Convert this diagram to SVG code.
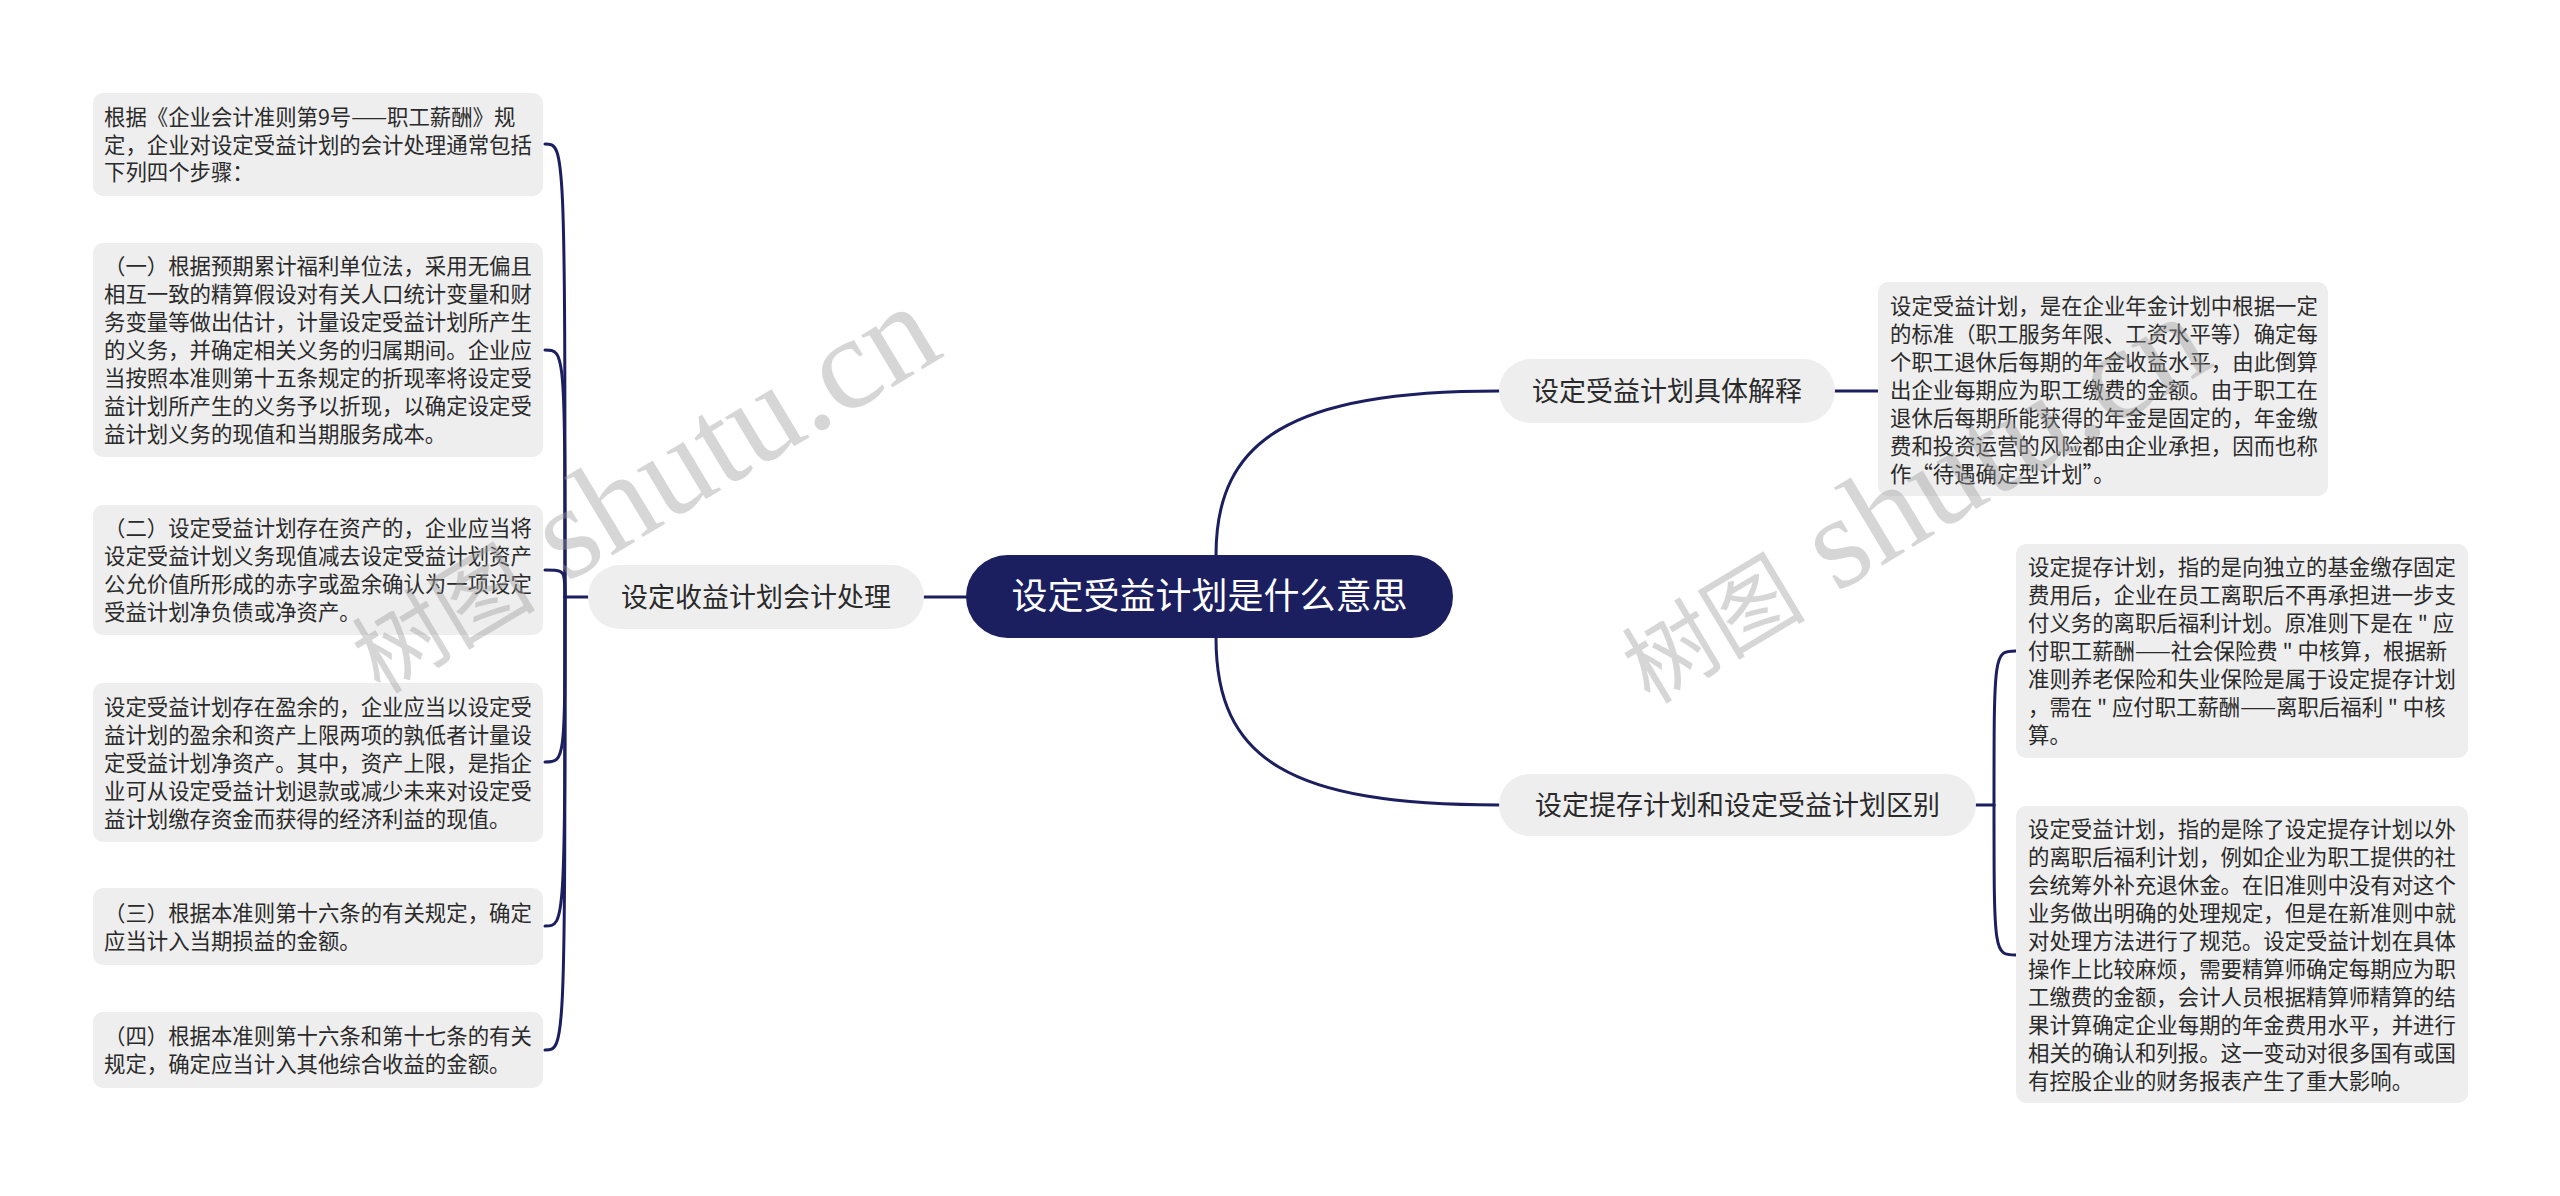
<svg xmlns="http://www.w3.org/2000/svg" width="2560" height="1196" viewBox="0 0 2560 1196">
<style>
.bg{fill:#ffffff}
.box{fill:#eeeeee}
.t{font-family:"Noto Sans CJK SC","Noto Sans",sans-serif;font-size:21.4px;fill:#2a2a2a}
.bt{font-family:"Noto Sans CJK SC","Noto Sans",sans-serif;font-size:27px;fill:#2a2a2a}
.ct{font-family:"Noto Sans CJK SC","Noto Sans",sans-serif;font-size:36px;fill:#ffffff}
.ln{fill:none;stroke:#1b1f5f;stroke-width:3;stroke-linecap:round}
.wm{fill:#9a9a9a;opacity:0.4}
.wc{font-family:"Noto Sans CJK SC","Noto Sans",sans-serif;font-size:92px}
.wl{font-family:"Liberation Serif",serif;font-size:132px}
</style>
<rect class="bg" x="0" y="0" width="2560" height="1196"/>
<g id="connectors">
<path class="ln" d="M924,597 L966,597"/>
<path class="ln" d="M1216,555 C1216,440 1290,391 1499,391"/>
<path class="ln" d="M1216,638 C1216,760 1290,805 1499,805"/>
<path class="ln" d="M1835,391 L1878,391"/>
<path class="ln" d="M1976,805 L1994,805"/>
<path class="ln" d="M1994,805 C1994,651 1994,651 2016,651"/>
<path class="ln" d="M1994,805 C1994,955 1994,955 2016,955"/>
<path class="ln" d="M588,597 L565,597"/>
<path class="ln" d="M565,597 C565,144 565,144 545,144"/>
<path class="ln" d="M565,597 C565,350 565,350 545,350"/>
<path class="ln" d="M565,597 C565,570 565,570 545,570"/>
<path class="ln" d="M565,597 C565,762 565,762 545,762"/>
<path class="ln" d="M565,597 C565,926 565,926 545,926"/>
<path class="ln" d="M565,597 C565,1050 565,1050 545,1050"/>
</g>
<g id="root">
<rect x="966" y="555" width="487" height="83" rx="41.5" fill="#1b1f5f"/>
<text class="ct" x="1209.5" y="609" text-anchor="middle">设定受益计划是什么意思</text>
</g>
<g id="branch-explain">
<rect class="box" x="1499" y="359" width="336" height="64" rx="32"/>
<text class="bt" x="1667" y="401" text-anchor="middle">设定受益计划具体解释</text>
</g>
<g id="branch-diff">
<rect class="box" x="1499" y="774" width="477" height="62" rx="31"/>
<text class="bt" x="1737.5" y="815" text-anchor="middle">设定提存计划和设定受益计划区别</text>
</g>
<g id="branch-account">
<rect class="box" x="588" y="565" width="336" height="64" rx="32"/>
<text class="bt" x="756" y="607" text-anchor="middle">设定收益计划会计处理</text>
</g>
<g id="note-r1">
<rect class="box" x="1878" y="282" width="450" height="214" rx="10"/>
<text class="t" x="1890" y="314">设定受益计划，是在企业年金计划中根据一定</text>
<text class="t" x="1890" y="342">的标准（职工服务年限、工资水平等）确定每</text>
<text class="t" x="1890" y="370">个职工退休后每期的年金收益水平，由此倒算</text>
<text class="t" x="1890" y="398">出企业每期应为职工缴费的金额。由于职工在</text>
<text class="t" x="1890" y="426">退休后每期所能获得的年金是固定的，年金缴</text>
<text class="t" x="1890" y="454">费和投资运营的风险都由企业承担，因而也称</text>
<text class="t" x="1890" y="482">作“待遇确定型计划”。</text>
</g>
<g id="note-r2">
<rect class="box" x="2016" y="544" width="452" height="214" rx="10"/>
<text class="t" x="2028" y="575">设定提存计划，指的是向独立的基金缴存固定</text>
<text class="t" x="2028" y="603">费用后，企业在员工离职后不再承担进一步支</text>
<text class="t" x="2028" y="631">付义务的离职后福利计划。原准则下是在 " 应</text>
<text class="t" x="2028" y="659">付职工薪酬——社会保险费 " 中核算，根据新</text>
<text class="t" x="2028" y="687">准则养老保险和失业保险是属于设定提存计划</text>
<text class="t" x="2028" y="715">，需在 " 应付职工薪酬——离职后福利 " 中核</text>
<text class="t" x="2028" y="743">算。</text>
</g>
<g id="note-r3">
<rect class="box" x="2016" y="806" width="452" height="297" rx="10"/>
<text class="t" x="2028" y="836.5">设定受益计划，指的是除了设定提存计划以外</text>
<text class="t" x="2028" y="864.5">的离职后福利计划，例如企业为职工提供的社</text>
<text class="t" x="2028" y="892.5">会统筹外补充退休金。在旧准则中没有对这个</text>
<text class="t" x="2028" y="920.5">业务做出明确的处理规定，但是在新准则中就</text>
<text class="t" x="2028" y="948.5">对处理方法进行了规范。设定受益计划在具体</text>
<text class="t" x="2028" y="976.5">操作上比较麻烦，需要精算师确定每期应为职</text>
<text class="t" x="2028" y="1004.5">工缴费的金额，会计人员根据精算师精算的结</text>
<text class="t" x="2028" y="1032.5">果计算确定企业每期的年金费用水平，并进行</text>
<text class="t" x="2028" y="1060.5">相关的确认和列报。这一变动对很多国有或国</text>
<text class="t" x="2028" y="1088.5">有控股企业的财务报表产生了重大影响。</text>
</g>
<g id="note-l1">
<rect class="box" x="93" y="93" width="450" height="103" rx="10"/>
<text class="t" x="104" y="125">根据《企业会计准则第9号——职工薪酬》规</text>
<text class="t" x="104" y="152.5">定，企业对设定受益计划的会计处理通常包括</text>
<text class="t" x="104" y="180">下列四个步骤：</text>
</g>
<g id="note-l2">
<rect class="box" x="93" y="243" width="450" height="214" rx="10"/>
<text class="t" x="104" y="274">（一）根据预期累计福利单位法，采用无偏且</text>
<text class="t" x="104" y="302">相互一致的精算假设对有关人口统计变量和财</text>
<text class="t" x="104" y="330">务变量等做出估计，计量设定受益计划所产生</text>
<text class="t" x="104" y="358">的义务，并确定相关义务的归属期间。企业应</text>
<text class="t" x="104" y="386">当按照本准则第十五条规定的折现率将设定受</text>
<text class="t" x="104" y="414">益计划所产生的义务予以折现，以确定设定受</text>
<text class="t" x="104" y="442">益计划义务的现值和当期服务成本。</text>
</g>
<g id="note-l3">
<rect class="box" x="93" y="505" width="450" height="130" rx="10"/>
<text class="t" x="104" y="536">（二）设定受益计划存在资产的，企业应当将</text>
<text class="t" x="104" y="564">设定受益计划义务现值减去设定受益计划资产</text>
<text class="t" x="104" y="592">公允价值所形成的赤字或盈余确认为一项设定</text>
<text class="t" x="104" y="620">受益计划净负债或净资产。</text>
</g>
<g id="note-l4">
<rect class="box" x="93" y="683" width="450" height="159" rx="10"/>
<text class="t" x="104" y="714.5">设定受益计划存在盈余的，企业应当以设定受</text>
<text class="t" x="104" y="742.5">益计划的盈余和资产上限两项的孰低者计量设</text>
<text class="t" x="104" y="770.5">定受益计划净资产。其中，资产上限，是指企</text>
<text class="t" x="104" y="798.5">业可从设定受益计划退款或减少未来对设定受</text>
<text class="t" x="104" y="826.5">益计划缴存资金而获得的经济利益的现值。</text>
</g>
<g id="note-l5">
<rect class="box" x="93" y="888" width="450" height="77" rx="10"/>
<text class="t" x="104" y="920.5">（三）根据本准则第十六条的有关规定，确定</text>
<text class="t" x="104" y="948.5">应当计入当期损益的金额。</text>
</g>
<g id="note-l6">
<rect class="box" x="93" y="1012" width="450" height="76" rx="10"/>
<text class="t" x="104" y="1044">（四）根据本准则第十六条和第十七条的有关</text>
<text class="t" x="104" y="1072">规定，确定应当计入其他综合收益的金额。</text>
</g>
<g id="watermarks">
<text class="wm" x="380" y="695" transform="rotate(-31 380 695)"><tspan class="wc">树图</tspan><tspan class="wl"> shutu.cn</tspan></text>
<text class="wm" x="1650" y="705" transform="rotate(-31 1650 705)"><tspan class="wc">树图</tspan><tspan class="wl"> shutu.cn</tspan></text>
</g>
</svg>
